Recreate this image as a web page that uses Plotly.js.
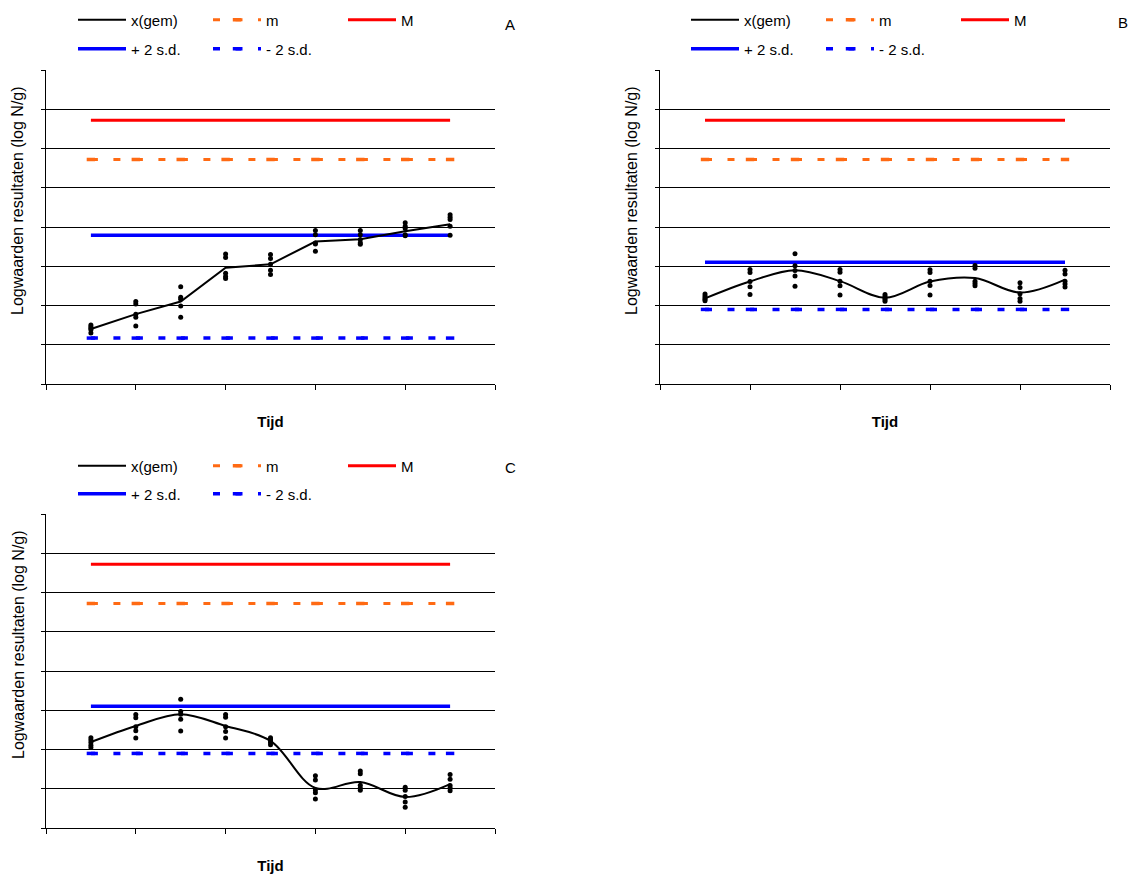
<!DOCTYPE html>
<html><head><meta charset="utf-8">
<script src="https://cdn.plot.ly/plotly-3.0.1.min.js"></script>
<style>body{margin:0;background:#fff}#chart{width:1130px;height:874px}</style>
</head><body><div id="chart"></div>
<script>
// ---- data ----
const tijd = [1, 2, 3, 4, 5, 6, 7, 8, 9];

// Panel A
const gemA = [1.40, 1.78, 2.10, 2.96, 3.05, 3.63, 3.69, 3.89, 4.07];
const repA = [
  [1.50, 1.46, 1.42, 1.38, 1.30],
  [2.10, 2.04, 1.78, 1.70, 1.48],
  [2.48, 2.21, 2.16, 1.99, 1.70],
  [3.31, 3.22, 2.82, 2.74, 2.69],
  [3.30, 3.20, 3.05, 2.90, 2.79],
  [3.91, 3.80, 3.59, 3.57, 3.38],
  [3.91, 3.80, 3.68, 3.60, 3.56],
  [4.11, 4.02, 3.96, 3.80, 3.78],
  [4.31, 4.25, 4.19, 4.02, 3.79]
];
const mA   = [5.72, 5.72, 5.72, 5.72, 5.72, 5.72, 5.72, 5.72, 5.72];
const MA   = [6.72, 6.72, 6.72, 6.72, 6.72, 6.72, 6.72, 6.72, 6.72];
const plusA  = [3.79, 3.79, 3.79, 3.79, 3.79, 3.79, 3.79, 3.79, 3.79];
const minA   = [1.17, 1.17, 1.17, 1.17, 1.17, 1.17, 1.17, 1.17, 1.17];

// Panel B
const gemB = [2.18, 2.61, 2.90, 2.62, 2.20, 2.61, 2.70, 2.33, 2.66];
const repB = [
  [2.29, 2.24, 2.20, 2.16, 2.12],
  [2.92, 2.84, 2.61, 2.48, 2.28],
  [3.32, 3.01, 2.89, 2.75, 2.49],
  [2.92, 2.85, 2.62, 2.50, 2.27],
  [2.28, 2.23, 2.19, 2.15, 2.11],
  [2.91, 2.84, 2.62, 2.51, 2.27],
  [3.02, 2.95, 2.62, 2.56, 2.50],
  [2.58, 2.46, 2.30, 2.18, 2.11],
  [2.90, 2.80, 2.62, 2.55, 2.47]
];
const mB   = [5.72, 5.72, 5.72, 5.72, 5.72, 5.72, 5.72, 5.72, 5.72];
const MB   = [6.72, 6.72, 6.72, 6.72, 6.72, 6.72, 6.72, 6.72, 6.72];
const plusB  = [3.10, 3.10, 3.10, 3.10, 3.10, 3.10, 3.10, 3.10, 3.10];
const minB   = [1.90, 1.90, 1.90, 1.90, 1.90, 1.90, 1.90, 1.90, 1.90];

// Panel C
const gemC = [2.19, 2.60, 2.90, 2.60, 2.22, 1.02, 1.17, 0.79, 1.12];
const repC = [
  [2.30, 2.24, 2.18, 2.11, 2.05],
  [2.89, 2.81, 2.58, 2.48, 2.29],
  [3.28, 2.97, 2.90, 2.77, 2.47],
  [2.89, 2.82, 2.58, 2.46, 2.29],
  [2.30, 2.26, 2.22, 2.18, 2.12],
  [1.33, 1.22, 0.97, 0.90, 0.74],
  [1.45, 1.38, 1.09, 1.02, 0.96],
  [1.04, 0.96, 0.80, 0.66, 0.53],
  [1.36, 1.24, 1.08, 1.02, 0.95]
];
const mC   = [5.72, 5.72, 5.72, 5.72, 5.72, 5.72, 5.72, 5.72, 5.72];
const MC   = [6.72, 6.72, 6.72, 6.72, 6.72, 6.72, 6.72, 6.72, 6.72];
const plusC  = [3.10, 3.10, 3.10, 3.10, 3.10, 3.10, 3.10, 3.10, 3.10];
const minC   = [1.90, 1.90, 1.90, 1.90, 1.90, 1.90, 1.90, 1.90, 1.90];

const seriesNames = ['x(gem)', 'm', 'M', '+ 2 s.d.', '- 2 s.d.'];
const panelLetters = ['A', 'B', 'C'];
const yTitle = 'Logwaarden resultaten (log N/g)';
const xTitle = '<b>Tijd</b>';

// ---- build ----
const FONT = 'Liberation Sans, Arial, sans-serif';
const panels = [
  {gem: gemA, rep: repA, m: mA, M: MA, plus: plusA, min: minA, shape: 'linear', xa: 'x',  ya: 'y',  l1: 'legend',  l2: 'legend2'},
  {gem: gemB, rep: repB, m: mB, M: MB, plus: plusB, min: minB, shape: 'spline', xa: 'x2', ya: 'y2', l1: 'legend3', l2: 'legend4'},
  {gem: gemC, rep: repC, m: mC, M: MC, plus: plusC, min: minC, shape: 'spline', xa: 'x3', ya: 'y3', l1: 'legend5', l2: 'legend6'}
];

const dashMarker = c => ({symbol: 'line-ew', size: 6, color: c, line: {color: c, width: 3.5}});

const traces = [];
panels.forEach(p => {
  traces.push({x: tijd, y: p.M, name: seriesNames[2], mode: 'lines', xaxis: p.xa, yaxis: p.ya,
    line: {color: '#FF0000', width: 3}, legend: p.l1, legendrank: 3, hoverinfo: 'skip'});
  traces.push({x: tijd, y: p.m, name: seriesNames[1], mode: 'lines+markers', xaxis: p.xa, yaxis: p.ya,
    line: {color: '#FF6A13', width: 3, dash: '7px,15.5px'}, marker: dashMarker('#FF6A13'),
    legend: p.l1, legendrank: 2, hoverinfo: 'skip'});
  traces.push({x: tijd, y: p.plus, name: seriesNames[3], mode: 'lines', xaxis: p.xa, yaxis: p.ya,
    line: {color: '#0000FF', width: 3.5}, legend: p.l2, legendrank: 1, hoverinfo: 'skip'});
  traces.push({x: tijd, y: p.min, name: seriesNames[4], mode: 'lines+markers', xaxis: p.xa, yaxis: p.ya,
    line: {color: '#0000FF', width: 3.5, dash: '7px,15.5px'}, marker: dashMarker('#0000FF'),
    legend: p.l2, legendrank: 2, hoverinfo: 'skip'});
  traces.push({x: tijd, y: p.gem, name: seriesNames[0], mode: 'lines', xaxis: p.xa, yaxis: p.ya,
    line: {color: '#000000', width: 2, shape: p.shape, smoothing: 1}, legend: p.l1, legendrank: 1});
  const dx = [], dy = [];
  p.rep.forEach((vals, i) => vals.forEach(v => { dx.push(tijd[i]); dy.push(v); }));
  traces.push({x: dx, y: dy, mode: 'markers', xaxis: p.xa, yaxis: p.ya, showlegend: false,
    marker: {color: '#000000', size: 5}});
});

const xCommon = {range: [0, 10], tickvals: [0, 2, 4, 6, 8, 10], ticks: 'outside', ticklen: 5, tickcolor: '#000',
  showticklabels: false, showline: true, linecolor: '#000', linewidth: 1, showgrid: false, zeroline: false,
  fixedrange: true};
const yCommon = {range: [0, 8], tickvals: [0, 1, 2, 3, 4, 5, 6, 7, 8], ticks: 'outside', ticklen: 4, tickcolor: '#000',
  showticklabels: false, showline: true, linecolor: '#000', linewidth: 1, showgrid: true, gridcolor: '#000',
  gridwidth: 1, zeroline: false, fixedrange: true};

const W = 1130, H = 874;
const px = v => v / W, py = v => 1 - v / H;
const xt = {text: xTitle, font: {size: 15, family: FONT}, standoff: 27};

function legendAt(xp, yp) {
  return {orientation: 'h', x: px(xp), y: py(yp), xanchor: 'left', yanchor: 'middle',
    itemwidth: 48, entrywidth: 72, entrywidthmode: 'pixels', bgcolor: 'rgba(0,0,0,0)',
    font: {size: 15, family: FONT, color: '#000'}, itemclick: false, itemdoubleclick: false};
}
function label(text, xp, yp, angle, size) {
  return {text: text, xref: 'paper', yref: 'paper', x: px(xp), y: py(yp), xanchor: 'center', yanchor: 'middle',
    textangle: angle || 0, showarrow: false, font: {size: size || 15, family: FONT, color: '#000'}};
}

const layout = {
  width: W, height: H, margin: {l: 0, r: 0, t: 0, b: 0, autoexpand: false},
  paper_bgcolor: '#fff', plot_bgcolor: '#fff',
  font: {family: FONT, size: 15, color: '#000'},
  showlegend: true,
  xaxis:  Object.assign({}, xCommon, {domain: [px(46), px(495)], anchor: 'y',  title: xt}),
  yaxis:  Object.assign({}, yCommon, {domain: [py(384), py(70)], anchor: 'x'}),
  xaxis2: Object.assign({}, xCommon, {domain: [px(660), px(1110)], anchor: 'y2', title: xt}),
  yaxis2: Object.assign({}, yCommon, {domain: [py(384), py(70)], anchor: 'x2'}),
  xaxis3: Object.assign({}, xCommon, {domain: [px(46), px(495)], anchor: 'y3', title: xt}),
  yaxis3: Object.assign({}, yCommon, {domain: [py(828), py(514)], anchor: 'x3'}),
  legend:  legendAt(73, 20),
  legend2: legendAt(73, 49),
  legend3: legendAt(686, 20),
  legend4: legendAt(686, 49),
  legend5: legendAt(73, 466),
  legend6: legendAt(73, 494),
  annotations: [
    label(panelLetters[0], 510, 24),
    label(panelLetters[1], 1123, 22),
    label(panelLetters[2], 510, 467),
    label(yTitle, 18, 201, -90, 16),
    label(yTitle, 632, 201, -90, 16),
    label(yTitle, 18, 645, -90, 16)
  ]
};

Plotly.newPlot('chart', traces, layout, {staticPlot: true, displayModeBar: false});
</script>
</body></html>
